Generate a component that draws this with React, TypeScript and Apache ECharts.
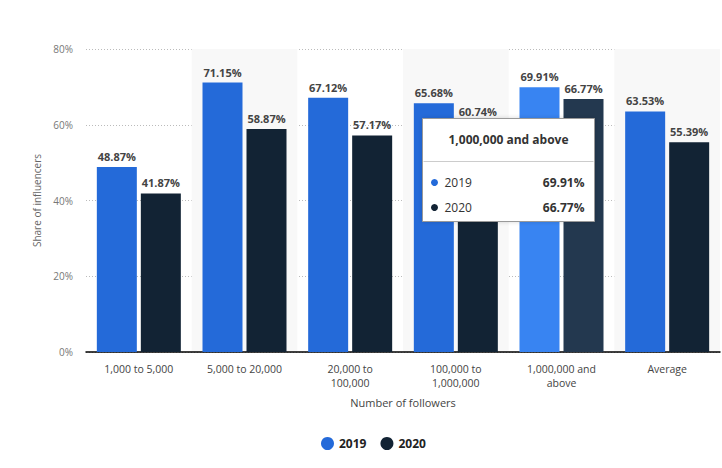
import React, { useEffect, useRef } from "react";
import * as echarts from "echarts";

const categories = [
  "1,000 to 5,000",
  "5,000 to 20,000",
  "20,000 to\n100,000",
  "100,000 to\n1,000,000",
  "1,000,000 and\nabove",
  "Average",
];
const values2019 = [48.87, 71.15, 67.12, 65.68, 69.91, 63.53];
const values2020 = [41.87, 58.87, 57.17, 60.74, 66.77, 55.39];
const seriesNames = ["2019", "2020"];
const hoverIndex = 4;
const hoverTitle = "1,000,000 and above";

const FONT = "'Open Sans', sans-serif";
const C19 = "#246ad9";
const C20 = "#122334";
const C19H = "#3884f2";
const C20H = "#23384f";

export default function App() {
  const ref = useRef<HTMLDivElement>(null);
  useEffect(() => {
    if (!ref.current) return;
    const chart = echarts.init(ref.current, undefined, { renderer: "svg" });
    const mk = (vals: number[], hover: string) =>
      vals.map((v, i) => (i === hoverIndex ? { value: v, itemStyle: { color: hover } } : v));
    const labelCfg = {
      show: true,
      position: "top",
      distance: 5,
      formatter: (p: any) => p.value.toFixed(2) + "%",
      color: "#444",
      fontFamily: FONT,
      fontSize: 11,
      fontWeight: "bold",
    };
    chart.setOption({
      animation: false,
      textStyle: { fontFamily: FONT },
      grid: { left: 86, right: 2, top: 49, bottom: 116 },
      xAxis: {
        type: "category",
        data: categories,
        name: "Number of followers",
        nameLocation: "middle",
        nameGap: 45,
        nameTextStyle: { color: "#444", fontSize: 11, fontFamily: FONT },
        axisLine: { lineStyle: { color: "#000", width: 1.5 } },
        axisTick: { show: false },
        axisLabel: {
          color: "#444",
          fontSize: 10.5,
          fontFamily: FONT,
          lineHeight: 14,
          margin: 10,
          interval: 0,
        },
        splitArea: { show: true, areaStyle: { color: ["rgba(255,255,255,0)", "#f8f8f8"] } },
      },
      yAxis: {
        type: "value",
        min: 0,
        max: 80,
        interval: 20,
        name: "Share of influencers",
        nameLocation: "middle",
        nameGap: 42,
        nameTextStyle: { color: "#666", fontSize: 10, fontFamily: FONT },
        axisLine: { show: false },
        axisTick: { show: false },
        axisLabel: { formatter: "{value}%", color: "#777", fontSize: 10, fontFamily: FONT, margin: 13 },
        splitLine: { lineStyle: { color: "#bbb", type: [1, 2], width: 1 } },
      },
      legend: {
        left: 316,
        top: 432,
        icon: "circle",
        itemWidth: 13,
        itemHeight: 13,
        itemGap: 14,
        textStyle: { fontSize: 12, fontWeight: "bold", color: "#222", fontFamily: FONT },
        data: seriesNames,
      },
      series: [
        {
          name: seriesNames[0],
          type: "bar",
          data: mk(values2019, C19H),
          itemStyle: { color: C19 },
          barCategoryGap: "20.5%",
          barGap: "10%",
          label: labelCfg,
        },
        {
          name: seriesNames[1],
          type: "bar",
          data: mk(values2020, C20H),
          itemStyle: { color: C20 },
          label: labelCfg,
        },
      ],
      graphic: [
        {
          type: "group",
          left: 421,
          top: 118,
          z: 100,
          zlevel: 1,
          children: [
            {
              type: "rect",
              z: 100,
              shape: { x: 0, y: 0, width: 172, height: 103 },
              style: {
                fill: "#fff",
                stroke: "#999",
                lineWidth: 1,
                shadowBlur: 4,
                shadowColor: "rgba(0,0,0,0.15)",
              },
            },
            {
              type: "text",
              z: 101,
              x: 86,
              y: 21,
              style: {
                text: hoverTitle,
                align: "center",
                verticalAlign: "middle",
                font: "bold 12px 'Open Sans', sans-serif",
                fill: "#333",
              },
            },
            { type: "line", z: 101, shape: { x1: 1, y1: 43, x2: 171, y2: 43 }, style: { stroke: "#ccc", lineWidth: 1 } },
            { type: "circle", z: 101, shape: { cx: 12, cy: 64, r: 3.5 }, style: { fill: C19 } },
            {
              type: "text",
              z: 101,
              x: 22,
              y: 64,
              style: { text: seriesNames[0], verticalAlign: "middle", font: "12px 'Open Sans', sans-serif", fill: "#333" },
            },
            {
              type: "text",
              z: 101,
              x: 162,
              y: 64,
              style: {
                text: values2019[hoverIndex].toFixed(2) + "%",
                align: "right",
                verticalAlign: "middle",
                font: "bold 12px 'Open Sans', sans-serif",
                fill: "#333",
              },
            },
            { type: "circle", z: 101, shape: { cx: 12, cy: 89, r: 3.5 }, style: { fill: C20 } },
            {
              type: "text",
              z: 101,
              x: 22,
              y: 89,
              style: { text: seriesNames[1], verticalAlign: "middle", font: "12px 'Open Sans', sans-serif", fill: "#333" },
            },
            {
              type: "text",
              z: 101,
              x: 162,
              y: 89,
              style: {
                text: values2020[hoverIndex].toFixed(2) + "%",
                align: "right",
                verticalAlign: "middle",
                font: "bold 12px 'Open Sans', sans-serif",
                fill: "#333",
              },
            },
          ],
        },
      ],
    });
    return () => chart.dispose();
  }, []);
  return (
    <div
      ref={ref}
      style={{ position: "fixed", left: 0, top: 0, width: 722, height: 468, background: "#fff" }}
    />
  );
}
